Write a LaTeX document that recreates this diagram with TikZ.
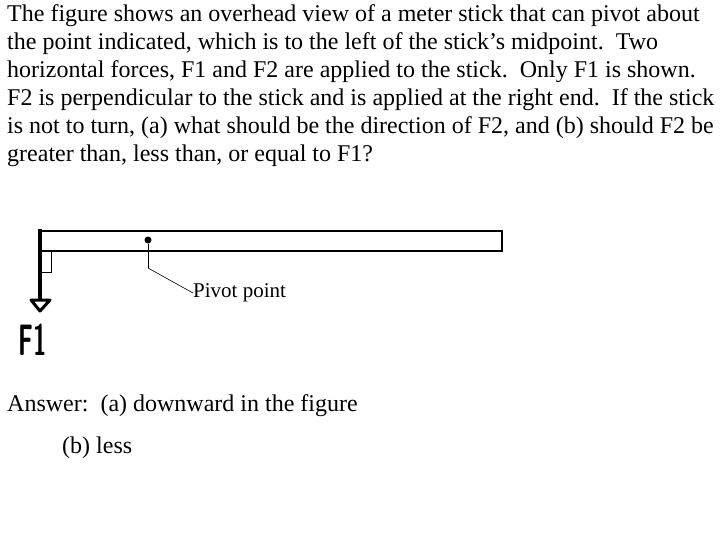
\documentclass[tikz,border=0pt]{standalone}
\usepackage{fontspec}
\setmainfont{Liberation Serif}
\begin{document}
\begin{tikzpicture}[x=1pt,y=-1pt,
  txt/.style={anchor=base west,inner sep=0pt,font=\fontsize{24}{28}\selectfont},
  small/.style={anchor=west,inner sep=0pt,font=\fontsize{21}{24}\selectfont}]
\useasboundingbox (0,0) rectangle (720,540);
\node[txt] (l1) at (7,22) {The figure shows an overhead view of a meter stick that can pivot about};
\node[txt] (l2) at (7,50) {the point indicated, which is to the left of the stick’s midpoint.\ \ Two};
\node[txt] (l3) at (7,78) {horizontal forces, F1 and F2 are applied to the stick.\ \ Only F1 is shown.};
\node[txt] (l4) at (7,106) {F2 is perpendicular to the stick and is applied at the right end.\ \ If the stick};
\node[txt] (l5) at (7,134) {is not to turn, (a) what should be the direction of F2, and (b) should F2 be};
\node[txt] (l6) at (7,162) {greater than, less than, or equal to F1?};
% stick
\draw[line width=1.5pt] (41,231) rectangle (502,251);
\draw[line width=0.6pt] (41,251) rectangle (51,272);
\coordinate (top) at (40,229);
\coordinate (tip) at (40,311);
\draw[line width=3.5pt] (top) -- (40,300);
\draw[line width=3pt,line join=round] (31,300) -- (50,300) -- (tip) -- cycle;
\node[inner sep=0pt,font=\sffamily\bfseries\fontsize{44}{44}\selectfont,xscale=0.55] (f1) at (33,340) {F1};
% pivot
\node[circle,fill,inner sep=0pt,minimum size=7pt] (piv) at (148,240) {};
\node[small] (pl) at (193,293) {Pivot point};
\coordinate (bend) at (148,268);
\draw[line width=1pt] (piv) -- (bend);
\draw[line width=0.6pt] (bend) -- (pl.west);
\node[txt] (a1) at (7,411) {Answer:\ \ (a) downward in the figure};
\node[txt] (a2) at (62,453) {(b) less};
\end{tikzpicture}
\end{document}
